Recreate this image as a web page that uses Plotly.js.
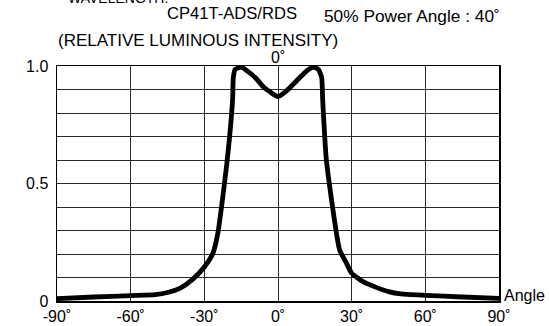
<!DOCTYPE html>
<html>
<head>
<meta charset="utf-8">
<script src="https://cdn.plot.ly/plotly-3.0.1.min.js"></script>
<style>html,body{margin:0;padding:0;background:#fff;}#chart{width:549px;height:326px;}</style>
</head>
<body>
<div id="chart"></div>
<script>
const angles = [-90, -75, -60, -50, -45, -40, -35, -30, -26.5, -24.5, -23, -21, -19.7, -18.5, -18.2, -17.5, -15, -12, -9, -6, -3, 0, 3, 6, 9, 12, 14.5, 16.5, 17.8, 18.2, 19.7, 21.8, 23.8, 25.1, 27.9, 30, 35, 40, 45, 50, 60, 75, 90];
const intensity = [0.010, 0.017, 0.023, 0.027, 0.036, 0.054, 0.090, 0.145, 0.203, 0.288, 0.40, 0.57, 0.70, 0.855, 0.95, 0.985, 0.995, 0.975, 0.948, 0.912, 0.888, 0.870, 0.89, 0.92, 0.952, 0.982, 0.995, 0.985, 0.95, 0.855, 0.60, 0.43, 0.288, 0.217, 0.160, 0.118, 0.080, 0.058, 0.040, 0.030, 0.024, 0.017, 0.011];
const xTickVals = [-90, -60, -30, 0, 30, 60, 90];
const xTickText = ["-90˚", "-60˚", "-30˚", "0˚", "30˚", "60˚", "90˚"];
const yTickVals = [0, 0.1, 0.2, 0.3, 0.4, 0.5, 0.6, 0.7, 0.8, 0.9, 1.0];
const yTickText = ["0", "", "", "", "", "0.5", "", "", "", "", "1.0"];

const font = "Liberation Sans, Arial, sans-serif";
const trace = {
  x: angles, y: intensity, type: 'scatter', mode: 'lines',
  line: {color: '#000', width: 4.8, shape: 'spline', smoothing: 0.5},
  hoverinfo: 'skip', showlegend: false
};
const W = 549, H = 326, L = 57, R = 499, T = 66, B = 301;
function px(x){return (x - L)/(R - L);}
function py(y){return (B - y)/(B - T);}
const layout = {
  width: W, height: H,
  margin: {l: L, r: W - R, t: T, b: H - B, pad: 0},
  paper_bgcolor: '#fff', plot_bgcolor: '#fff',
  font: {family: font, size: 16, color: '#000'},
  xaxis: {range: [-90, 90], tickvals: xTickVals, ticktext: xTickText, showgrid: true,
    gridcolor: '#2a2a2a', gridwidth: 1, zeroline: false, showline: true, linecolor: '#000', linewidth: 1.5,
    mirror: true, ticks: '', ticklabelstandoff: 0, tickfont: {size: 16}, fixedrange: true},
  yaxis: {range: [0, 1], tickvals: yTickVals, ticktext: yTickText, showgrid: true,
    gridcolor: '#2a2a2a', gridwidth: 1, zeroline: false, showline: true, linecolor: '#000', linewidth: 1.5,
    mirror: true, ticks: '', ticklabelstandoff: 4, tickfont: {size: 16}, fixedrange: true},
  annotations: [
    {text: 'WAVELENGTH:', xref: 'paper', yref: 'paper', x: px(66), y: py(-2), xanchor: 'left', yanchor: 'middle', showarrow: false, font: {size: 14}},
    {text: 'CP41T-ADS/RDS', xref: 'paper', yref: 'paper', x: px(165), y: py(14), xanchor: 'left', yanchor: 'middle', showarrow: false, font: {size: 16.6}},
    {text: '50% Power Angle : 40˚', xref: 'paper', yref: 'paper', x: px(322), y: py(16), xanchor: 'left', yanchor: 'middle', showarrow: false, font: {size: 17.3}},
    {text: '(RELATIVE LUMINOUS INTENSITY)', xref: 'paper', yref: 'paper', x: px(56), y: py(41), xanchor: 'left', yanchor: 'middle', showarrow: false, font: {size: 17}},
    {text: '0˚', xref: 'x', yref: 'paper', x: 0, y: py(58), xanchor: 'center', yanchor: 'middle', showarrow: false, font: {size: 16}},
    {text: 'Angle', xref: 'paper', yref: 'paper', x: px(502), y: py(295), xanchor: 'left', yanchor: 'middle', showarrow: false, font: {size: 16}}
  ]
};
Plotly.newPlot('chart', [trace], layout, {displayModeBar: false, staticPlot: true});
</script>
</body>
</html>
